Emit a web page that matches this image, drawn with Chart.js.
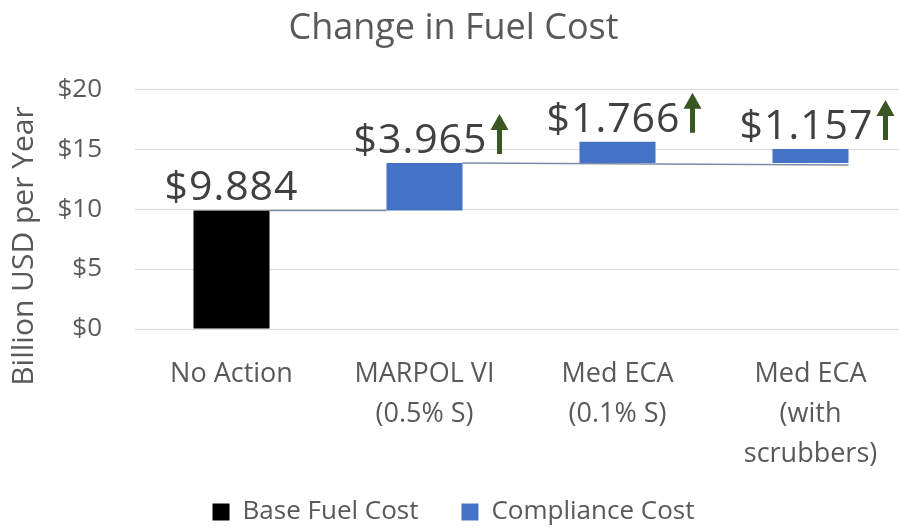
<!DOCTYPE html>
<html>
<head>
<meta charset="utf-8">
<script src="https://cdn.jsdelivr.net/npm/chart.js@4/dist/chart.umd.min.js"></script>
<style>
  html, body { margin: 0; padding: 0; background: #fff; overflow: hidden; }
  #wrap { width: 907px; height: 527px; }
</style>
</head>
<body>
<div id="wrap"><canvas id="fuelCost"></canvas></div>
<script>
const CATEGORIES = [
  ["No Action"],
  ["MARPOL VI", "(0.5% S)"],
  ["Med ECA", "(0.1% S)"],
  ["Med ECA", "(with", "scrubbers)"],
];
const BASE_FUEL = [9.884, null, null, null];
const COMPLIANCE = [null, 3.965, 1.766, 1.157];
// where each compliance bar starts (running total it sits on)
const COMPLIANCE_START = [null, 9.884, 13.849, 13.849];
const Y_TICKS = [0, 5, 10, 15, 20];
const Y_TITLE = "Billion USD per Year";

const TEXT = "#595959";
const FONT = "'Open Sans', 'Noto Sans', sans-serif";

function floatingBars(starts, values) {
  return values.map((v, i) => (v == null ? null : [starts[i], starts[i] + v]));
}

function drawArrow(ctx, x, bottom) {
  // little green "up" arrow next to the compliance labels
  ctx.fillStyle = "#385723";
  ctx.beginPath();
  ctx.moveTo(x + 6.5, bottom);
  ctx.lineTo(x + 6.5, bottom - 24);
  ctx.lineTo(x, bottom - 24);
  ctx.lineTo(x + 9, bottom - 40);
  ctx.lineTo(x + 18, bottom - 24);
  ctx.lineTo(x + 11.5, bottom - 24);
  ctx.lineTo(x + 11.5, bottom);
  ctx.closePath();
  ctx.fill();
}

const waterfallExtras = {
  id: "waterfallExtras",
  afterLayout(chart) {
    // pull the legend up under the 3-line category labels
    chart.legend.top -= 23;
    chart.legend.bottom -= 23;
  },
  afterDatasetsDraw(chart) {
    const ctx = chart.ctx;
    const y = chart.scales.y;
    const base = chart.getDatasetMeta(0).data;
    const comp = chart.getDatasetMeta(1).data;

    ctx.save();
    // y axis title, Excel puts it a bit lower than the plot centre
    ctx.save();
    ctx.translate(24, 246);
    ctx.rotate(-Math.PI / 2);
    ctx.font = "30px " + FONT;
    ctx.fillStyle = TEXT;
    ctx.textAlign = "center";
    ctx.textBaseline = "middle";
    ctx.fillText(Y_TITLE, 0, 0);
    ctx.restore();

    // connector lines
    ctx.strokeStyle = "#7d8ca6";
    ctx.lineWidth = 1.5;
    const lvl1 = y.getPixelForValue(COMPLIANCE_START[1]);
    ctx.beginPath();
    ctx.moveTo(base[0].x + base[0].width / 2, lvl1);
    ctx.lineTo(comp[1].x - comp[1].width / 2, lvl1);
    ctx.stroke();
    const lvl2 = y.getPixelForValue(COMPLIANCE_START[2]);
    ctx.beginPath();
    ctx.moveTo(comp[1].x + comp[1].width / 2, lvl2);
    ctx.lineTo(comp[3].x + comp[3].width / 2, lvl2 + 2);
    ctx.stroke();

    // value labels
    ctx.font = "41px " + FONT;
    ctx.letterSpacing = "1px";
    ctx.textAlign = "center";
    ctx.textBaseline = "alphabetic";
    CATEGORIES.forEach((c, i) => {
      const isBase = BASE_FUEL[i] != null;
      const el = isBase ? base[i] : comp[i];
      const val = isBase ? BASE_FUEL[i] : COMPLIANCE[i];
      const txt = "$" + val.toFixed(3);
      const cx = el.x - (isBase ? 0 : 4);
      const by = el.y - 10;
      ctx.fillStyle = "#404040";
      ctx.fillText(txt, cx, by);
      if (!isBase) {
        const w = ctx.measureText(txt).width;
        drawArrow(ctx, cx + w / 2 + 3, by + 1);
      }
    });
    ctx.restore();
  },
};

new Chart(document.getElementById("fuelCost"), {
  type: "bar",
  data: {
    labels: CATEGORIES,
    datasets: [
      {
        label: "Base Fuel Cost",
        data: BASE_FUEL.map((v) => (v == null ? null : [0, v])),
        backgroundColor: "#000000",
        grouped: false,
        skipNull: true,
      },
      {
        label: "Compliance Cost",
        data: floatingBars(COMPLIANCE_START, COMPLIANCE),
        backgroundColor: "#4472c4",
        grouped: false,
        skipNull: true,
      },
    ],
  },
  options: {
    responsive: true,
    maintainAspectRatio: false,
    animation: false,
    events: [],
    layout: { padding: { left: 0, right: 0, top: 0, bottom: -31 } },
    datasets: {
      bar: { categoryPercentage: 1, barPercentage: 0.394 },
    },
    plugins: {
      title: {
        display: true,
        text: "Change in Fuel Cost",
        color: TEXT,
        font: { family: FONT, size: 36, weight: "normal" },
        padding: { top: 7, bottom: 39 },
      },
      legend: {
        position: "bottom",
        labels: {
          color: TEXT,
          font: { family: FONT, size: 26 },
          boxWidth: 17,
          boxHeight: 17,
          padding: 43,
        },
      },
      tooltip: { enabled: false },
    },
    scales: {
      x: {
        grid: { display: false },
        border: { display: false },
        afterFit(scale) {
          scale.height = 150;
        },
        ticks: {
          color: TEXT,
          font: { family: FONT, size: 27, lineHeight: 1.48 },
          padding: 17,
          maxRotation: 0,
          autoSkip: false,
        },
      },
      y: {
        min: 0,
        max: 20,
        afterBuildTicks(axis) {
          axis.ticks = Y_TICKS.map((v) => ({ value: v }));
        },
        afterFit(scale) {
          scale.width = 135;
        },
        grid: { color: "#d9d9d9", lineWidth: 1, drawTicks: false },
        border: { display: false },
        ticks: {
          color: TEXT,
          font: { family: FONT, size: 26 },
          padding: 33,
          callback: (v) => "$" + v,
        },
      },
    },
  },
  plugins: [waterfallExtras],
});
</script>
</body>
</html>
